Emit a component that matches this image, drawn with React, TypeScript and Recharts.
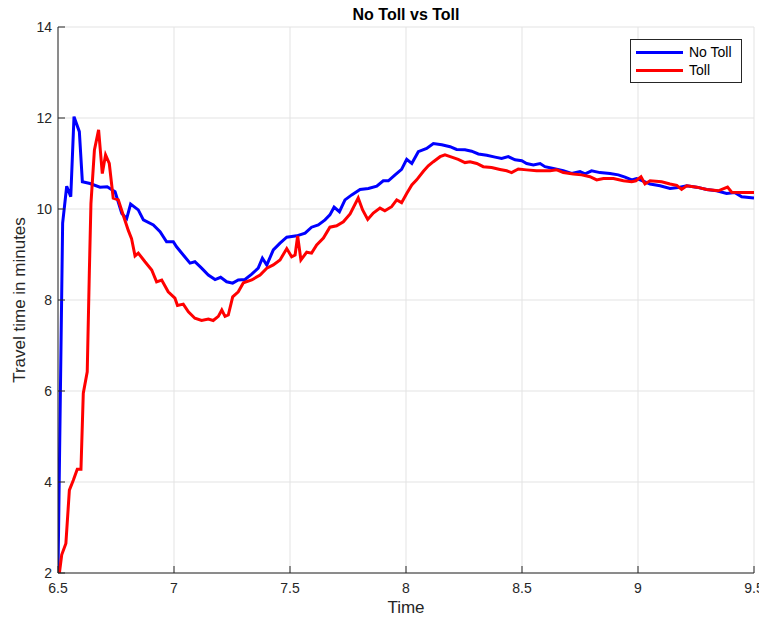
import React from 'react';
import { LineChart, Line, XAxis, YAxis, CartesianGrid, Legend } from 'recharts';

// Travel time (minutes) against time of day (hours), with and without toll
const noTollTime = [
	6.5, 6.52, 6.5375, 6.555, 6.569, 6.592, 6.605, 6.638, 6.681, 6.712, 6.746, 6.775, 6.796, 6.813, 6.846,
	6.868, 6.911, 6.94, 6.968, 6.997, 7.011, 7.04, 7.069, 7.09, 7.119, 7.148, 7.177, 7.201, 7.227, 7.253,
	7.277, 7.306, 7.335, 7.363, 7.381, 7.4, 7.428, 7.457, 7.486, 7.529, 7.565, 7.593, 7.622, 7.651, 7.672,
	7.69, 7.713, 7.737, 7.766, 7.802, 7.838, 7.874, 7.902, 7.924, 7.953, 7.981, 8.003, 8.025, 8.053, 8.089,
	8.118, 8.154, 8.19, 8.218, 8.254, 8.283, 8.312, 8.348, 8.384, 8.412, 8.441, 8.47, 8.499, 8.52, 8.549,
	8.578, 8.599, 8.635, 8.678, 8.714, 8.75, 8.772, 8.8, 8.836, 8.879, 8.915, 8.944, 8.973, 8.994, 9.009,
	9.052, 9.095, 9.138, 9.181, 9.21, 9.253, 9.296, 9.339, 9.382, 9.418, 9.447, 9.5,
];
const noTollMinutes = [
	2.0, 9.69, 10.5, 10.27, 12.03, 11.7, 10.6, 10.56, 10.48, 10.49, 10.38, 9.9, 9.79, 10.11, 9.98,
	9.76, 9.65, 9.5, 9.28, 9.28, 9.17, 8.99, 8.81, 8.84, 8.7, 8.55, 8.45, 8.5, 8.4, 8.37,
	8.44, 8.45, 8.57, 8.7, 8.92, 8.77, 9.1, 9.25, 9.38, 9.41, 9.47, 9.6, 9.65, 9.76, 9.87,
	10.04, 9.94, 10.2, 10.31, 10.43, 10.45, 10.5, 10.62, 10.62, 10.75, 10.87, 11.09, 11.0, 11.26, 11.33,
	11.44, 11.41, 11.37, 11.31, 11.3, 11.27, 11.21, 11.18, 11.14, 11.11, 11.15, 11.08, 11.06, 11.0, 10.97,
	11.0, 10.93, 10.89, 10.84, 10.78, 10.82, 10.77, 10.84, 10.8, 10.78, 10.75, 10.7, 10.64, 10.67, 10.64,
	10.55, 10.51, 10.45, 10.48, 10.51, 10.48, 10.43, 10.4, 10.34, 10.36, 10.27, 10.24,
];

const tollTime = [
	6.506, 6.516, 6.534, 6.549, 6.566, 6.583, 6.599, 6.609, 6.626, 6.635, 6.642, 6.657, 6.675, 6.691, 6.705,
	6.721, 6.738, 6.76, 6.781, 6.803, 6.817, 6.832, 6.846, 6.875, 6.904, 6.925, 6.947, 6.975, 7.004, 7.015,
	7.04, 7.062, 7.09, 7.119, 7.148, 7.169, 7.191, 7.206, 7.22, 7.234, 7.253, 7.277, 7.299, 7.335, 7.371,
	7.4, 7.428, 7.457, 7.486, 7.507, 7.522, 7.533, 7.547, 7.572, 7.593, 7.615, 7.644, 7.672, 7.701, 7.73,
	7.759, 7.794, 7.813, 7.835, 7.859, 7.888, 7.909, 7.938, 7.96, 7.981, 8.003, 8.025, 8.046, 8.075, 8.096,
	8.118, 8.147, 8.168, 8.197, 8.225, 8.254, 8.276, 8.305, 8.333, 8.369, 8.405, 8.434, 8.455, 8.484, 8.52,
	8.563, 8.621, 8.65, 8.678, 8.721, 8.757, 8.793, 8.822, 8.851, 8.894, 8.937, 8.973, 8.991, 9.013, 9.03,
	9.052, 9.102, 9.138, 9.167, 9.188, 9.21, 9.253, 9.296, 9.346, 9.386, 9.404, 9.454, 9.5,
];
const tollMinutes = [
	2.0, 2.4, 2.65, 3.82, 4.04, 4.28, 4.28, 5.95, 6.42, 8.59, 10.12, 11.3, 11.74, 10.78, 11.19,
	11.0, 10.24, 10.2, 9.87, 9.53, 9.35, 8.97, 9.03, 8.84, 8.66, 8.4, 8.44, 8.18, 8.04, 7.88,
	7.91, 7.74, 7.6, 7.55, 7.58, 7.55, 7.64, 7.78, 7.64, 7.67, 8.07, 8.18, 8.38, 8.44, 8.55,
	8.7, 8.77, 8.88, 9.13, 8.95, 8.99, 9.41, 8.88, 9.05, 9.03, 9.21, 9.36, 9.6, 9.63, 9.72,
	9.89, 10.24, 9.98, 9.77, 9.91, 10.02, 9.96, 10.05, 10.2, 10.14, 10.34, 10.53, 10.64, 10.83, 10.95,
	11.04, 11.15, 11.19, 11.14, 11.09, 11.02, 11.04, 11.0, 10.93, 10.91, 10.87, 10.84, 10.8, 10.88, 10.86,
	10.84, 10.84, 10.86, 10.8, 10.77, 10.75, 10.71, 10.64, 10.67, 10.67, 10.62, 10.6, 10.62, 10.71, 10.55,
	10.62, 10.6, 10.55, 10.52, 10.43, 10.51, 10.48, 10.43, 10.4, 10.48, 10.37, 10.36, 10.36,
];

const timeTicks = [6.5, 7, 7.5, 8, 8.5, 9, 9.5];
const minuteTicks = [2, 4, 6, 8, 10, 12, 14];

const seriesNames = ['No Toll', 'Toll'];
const seriesColors = ['#0000ff', '#ff0000'];

const FONT = '"Liberation Sans", Arial, Helvetica, sans-serif';
const INK = '#262626';

const toPoints = (xs: number[], ys: number[]) => xs.map((t, i) => ({ t, v: ys[i] }));
const noTollData = toPoints(noTollTime, noTollMinutes);
const tollData = toPoints(tollTime, tollMinutes);

const tickStyle = { fill: INK, fontSize: 14, fontFamily: FONT };
const labelStyle = { fill: INK, fontSize: 17, fontFamily: FONT };
const blank = () => '';

const LegendBox = () => (
	<div
		style={{
			border: `1px solid ${INK}`,
			background: '#fff',
			padding: '3px 0 3px 5px',
			fontFamily: FONT,
			fontSize: 14,
			color: '#000',
			boxSizing: 'border-box',
			width: 112,
		}}
	>
		{seriesNames.map((name, i) => (
			<div key={name} style={{ display: 'flex', alignItems: 'center', height: 18 }}>
				<span style={{ width: 47, height: 3, background: seriesColors[i], marginRight: 6, display: 'inline-block' }} />
				<span>{name}</span>
			</div>
		))}
	</div>
);

export default function App() {
	return (
		// pull the svg into the page corner so the title has room at the top
		<div style={{ margin: '-8px 0 0 -8px', width: 767 }}>
			<LineChart width={767} height={618} margin={{ top: 27, right: 13, bottom: 0, left: 0 }}>
				<text x={406} y={20} textAnchor="middle" fontFamily={FONT} fontSize={16} fontWeight="bold" fill="#000">
					No Toll vs Toll
				</text>
				<CartesianGrid stroke="#e3e3e3" />
				<XAxis
					dataKey="t"
					type="number"
					domain={[6.5, 9.5]}
					ticks={timeTicks}
					allowDataOverflow
					height={45}
					stroke={INK}
					tickSize={-7}
					tickMargin={17}
					tick={tickStyle}
					label={{ value: 'Time', position: 'center', dy: 11, ...labelStyle }}
				/>
				<XAxis
					xAxisId="top"
					orientation="top"
					type="number"
					domain={[6.5, 9.5]}
					ticks={timeTicks}
					allowDataOverflow
					height={0}
					stroke={INK}
					tickSize={-7}
					tickFormatter={blank}
				/>
				<YAxis
					type="number"
					domain={[2, 14]}
					ticks={minuteTicks}
					allowDataOverflow
					width={58}
					stroke={INK}
					tickSize={-7}
					tickMargin={13}
					tick={tickStyle}
					label={{ value: 'Travel time in minutes', angle: -90, position: 'center', dx: -10, ...labelStyle }}
				/>
				<YAxis
					yAxisId="right"
					orientation="right"
					type="number"
					domain={[2, 14]}
					ticks={minuteTicks}
					allowDataOverflow
					width={0}
					stroke={INK}
					tickSize={-7}
					tickFormatter={blank}
				/>
				<Legend
					layout="horizontal"
					align="center"
					verticalAlign="middle"
					content={LegendBox}
					wrapperStyle={{ left: 630, top: 39, width: 112 }}
				/>
				<Line
					data={noTollData}
					dataKey="v"
					name={seriesNames[0]}
					stroke={seriesColors[0]}
					strokeWidth={3}
					dot={false}
					type="linear"
					isAnimationActive={false}
				/>
				<Line
					data={tollData}
					dataKey="v"
					name={seriesNames[1]}
					stroke={seriesColors[1]}
					strokeWidth={3}
					dot={false}
					type="linear"
					isAnimationActive={false}
				/>
			</LineChart>
		</div>
	);
}
